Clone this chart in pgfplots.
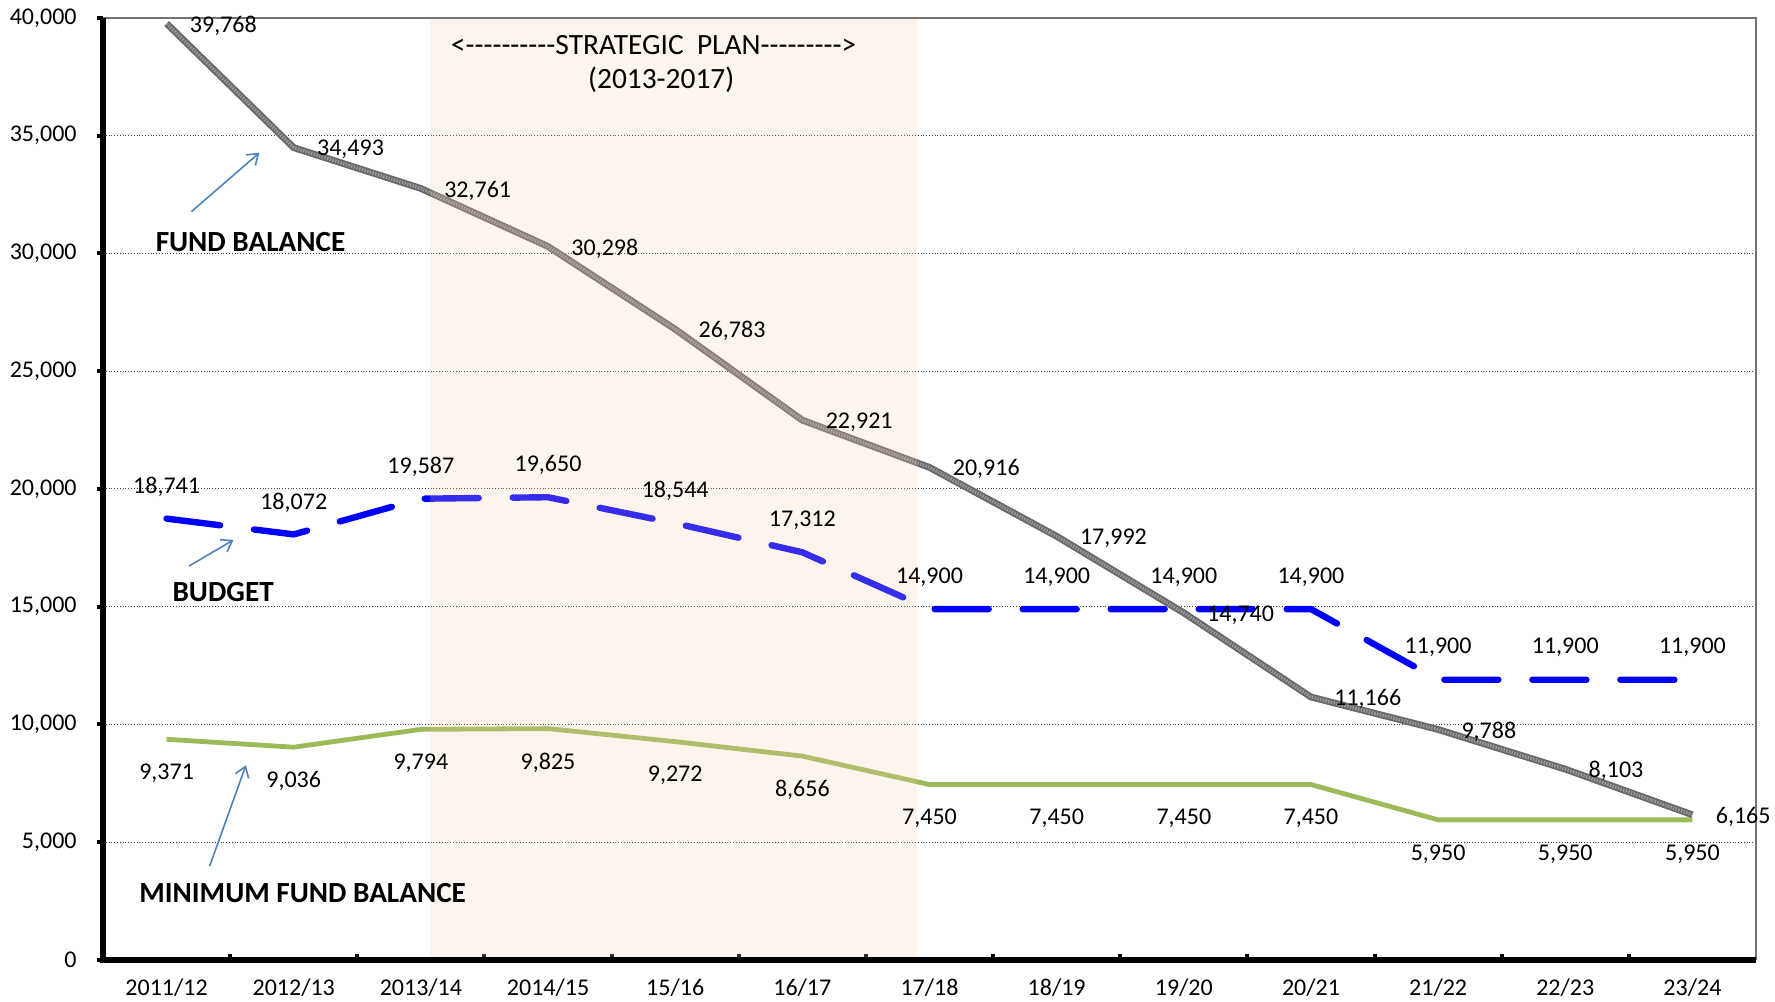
\documentclass[border=0pt]{standalone}
\usepackage{fontspec}
\setmainfont{Carlito}
\usepackage{pgfplots}
\usepackage{pgfplotstable}
\pgfplotsset{compat=1.18}
\usetikzlibrary{arrows.meta}
\definecolor{fundgray}{RGB}{105,105,105}
\definecolor{budblue}{RGB}{0,0,255}
\definecolor{mingreen}{RGB}{155,187,89}
\definecolor{arrowblue}{RGB}{79,129,189}
\definecolor{peach}{RGB}{248,203,173}
\def\h{-\kern0pt}

\pgfplotstableread{
x fund budget minf
0 39768 18741 9371
1 34493 18072 9036
2 32761 19587 9794
3 30298 19650 9825
4 26783 18544 9272
5 22921 17312 8656
6 20916 14900 7450
7 17992 14900 7450
8 14740 14900 7450
9 11166 14900 7450
10 9788 11900 5950
11 8103 11900 5950
12 6165 11900 5950
}\data

\pgfplotsset{/pgf/number format/1000 sep={,}, /pgf/number format/assume math mode=true}

\begin{document}
\fontsize{12}{14}\selectfont
\begin{tikzpicture}
\begin{axis}[
  scale only axis, width=826.5pt, height=471pt,
  xmin=-0.5, xmax=12.5, ymin=0, ymax=40000,
  xtick={0,...,12},
  xticklabels={2011/12,2012/13,2013/14,2014/15,15/16,16/17,17/18,18/19,19/20,20/21,21/22,22/23,23/24},
  minor xtick={0.5,1.5,...,11.5},
  ytick={0,5000,...,40000},
  scaled y ticks=false,
  tick pos=left,
  axis line style={draw=none},
  ymajorgrids,
  major grid style={densely dotted, black!75, line width=0.5pt},
  tick align=outside,
  major tick length=3pt,
  minor tick length=3pt,
  major x tick style={draw=none},
  minor x tick style={black, line width=2pt, yshift=3pt},
  y tick style={black, line width=2pt},
  xticklabel style={font=\fontsize{12}{14}\selectfont, yshift=-2.3pt},
  yticklabel style={font=\fontsize{12}{14}\selectfont, xshift=-6pt},
  clip=false,
  no markers,
]
% minimum fund balance
\addplot[mingreen, line width=2.4pt, nodes near coords,
  every node near coord/.append style={anchor=center, yshift=-17pt, black, font=\fontsize{12}{14}\selectfont}]
  table[x=x, y=minf] {\data};
% budget
\addplot[budblue, line width=3.2pt, line cap=round, dash pattern=on 27pt off 17pt, nodes near coords,
  every node near coord/.append style={anchor=center, yshift=16pt, black, font=\fontsize{12}{14}\selectfont}]
  table[x=x, y=budget] {\data};
% fund balance
\addplot[fundgray, line width=3.4pt,
  postaction={draw, line width=1.6pt, color=white, opacity=0.35, dash pattern=on 0.7pt off 0.7pt},
  nodes near coords,
  every node near coord/.append style={anchor=west, xshift=6pt, yshift=-1pt, black, font=\fontsize{12}{14}\selectfont}]
  table[x=x, y=fund] {\data};

% strategic plan shading (overlay)
\fill[peach, fill opacity=0.22] (axis cs:2.07,0) rectangle (axis cs:5.9,40000);

% frame
\draw[black!55, line width=0.9pt] (rel axis cs:0,1) -- (rel axis cs:1,1) -- (rel axis cs:1,0);
\draw[black, line width=3pt] (rel axis cs:0,1) -- (rel axis cs:0,0) -- (rel axis cs:1,0);

% annotations
\node[font=\fontsize{14.7}{17}\selectfont] at (axis cs:3.83,38846) {<\h\h\h\h\h\h\h\h\h\h STRATEGIC\ \ PLAN\h\h\h\h\h\h\h\h\h >};
\node[font=\fontsize{14.7}{17}\selectfont] at (axis cs:3.89,37356) {(2013-2017)};

\node[font=\fontsize{14.6}{17}\selectfont\bfseries] at (axis cs:0.66,30480) {FUND BALANCE};
\draw[arrowblue, line width=0.8pt, -{Straight Barb[length=5pt,width=7pt]}] (axis cs:0.196,31779) -- (axis cs:0.73,34279);

\node[font=\fontsize{14.6}{17}\selectfont\bfseries] at (axis cs:0.445,15625) {BUDGET};
\draw[arrowblue, line width=0.8pt, -{Straight Barb[length=5pt,width=7pt]}] (axis cs:0.178,16731) -- (axis cs:0.526,17837);

\node[font=\fontsize{14.6}{17}\selectfont\bfseries] at (axis cs:1.07,2837) {MINIMUM FUND BALANCE};
\draw[arrowblue, line width=0.8pt, -{Straight Barb[length=5pt,width=7pt]}] (axis cs:0.339,3990) -- (axis cs:0.624,8269);

\coordinate (bl) at (rel axis cs:0,0);
\coordinate (tr) at (rel axis cs:1,1);
\end{axis}
\pgfresetboundingbox
\path[use as bounding box] ([xshift=-51.5pt,yshift=-21pt]bl) rectangle ([xshift=9.5pt,yshift=9pt]tr);
\end{tikzpicture}
\end{document}
